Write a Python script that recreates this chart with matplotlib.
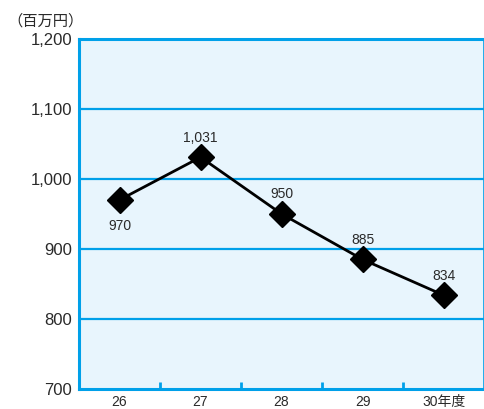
import matplotlib
matplotlib.use("Agg")
import matplotlib.pyplot as plt
import numpy as np

plt.rcParams['font.family'] = ['Liberation Sans', 'Noto Sans CJK JP', 'DejaVu Sans']

# data
years = ["26", "27", "28", "29", "30年度"]
values = [970, 1031, 950, 885, 834]
label_below = [True, False, False, False, False]
y_ticks = [700, 800, 900, 1000, 1100, 1200]

CYAN = "#00a0e9"
FILL = "#e8f5fd"
TEXT = "#2a2a2a"

fig = plt.figure(figsize=(4.85, 4.09), dpi=100)
ax = fig.add_axes([0.163, 0.049, 0.835, 0.856])
ax.set_facecolor(FILL)

x = np.arange(len(years))
ax.set_xlim(-0.5, len(years) - 0.5)
ax.set_ylim(700, 1200)

for yv in y_ticks[1:-1]:
    ax.axhline(yv, color=CYAN, lw=1.6, zorder=1)

ax.plot(x, values, color="black", lw=2, marker="D", markersize=13, zorder=3)

for xi, v, below in zip(x, values, label_below):
    txt = f"{v:,}"
    if below:
        ax.annotate(txt, (xi, v), xytext=(0, -14), textcoords="offset points",
                    ha="center", va="top", fontsize=10, color=TEXT)
    else:
        ax.annotate(txt, (xi, v), xytext=(0, 9), textcoords="offset points",
                    ha="center", va="bottom", fontsize=10, color=TEXT)

# axes styling
for side in ["left", "bottom", "top"]:
    ax.spines[side].set_color(CYAN)
    ax.spines[side].set_linewidth(2.2)
ax.spines["right"].set_color(CYAN)
ax.spines["right"].set_linewidth(1.2)

ax.set_yticks(y_ticks)
ax.set_yticklabels([f"{t:,}" for t in y_ticks], fontsize=12, color=TEXT)
ax.tick_params(axis="y", length=0, pad=5)

ax.set_xticks(x[:-1] + 0.5)
ax.set_xticklabels([])
ax.tick_params(axis="x", which="major", direction="in", length=5, width=2, color=CYAN)
ax.set_xticks(x, minor=True)
ax.set_xticklabels(years, minor=True, fontsize=10, color=TEXT)
ax.tick_params(axis="x", which="minor", length=0, pad=4)

fig.text(0.015, 0.93, "（百万円）", fontsize=11, color=TEXT, ha="left", va="bottom")

fig.savefig("out.png", dpi=100)
